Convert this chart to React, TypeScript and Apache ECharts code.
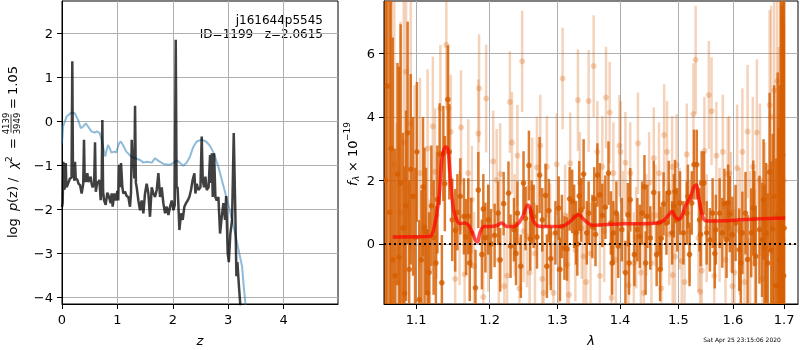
import React, { useEffect, useRef } from 'react';
import * as echarts from 'echarts';

const Z_TICKS = [0, 1, 2, 3, 4];
const LOGP_TICKS = [-4, -3, -2, -1, 0, 1, 2];
const LAM_TICKS = [1.1, 1.2, 1.3, 1.4, 1.5, 1.6, 1.7];
const FLUX_TICKS = [0, 2, 4, 6];

const PZ_BLUE: [number, number][] = [
  [0.0, -0.5], [0.02, -0.12], [0.08, 0.1], [0.17, 0.2], [0.23, 0.18], [0.29, 0.03], [0.34, -0.16],
  [0.38, -0.12], [0.43, -0.05], [0.47, -0.12], [0.53, -0.23], [0.59, -0.26], [0.63, -0.23], [0.68, -0.27],
  [0.71, -0.39], [0.74, -0.58], [0.78, -0.8], [0.8, -0.69], [0.83, -0.54], [0.86, -0.61], [0.89, -0.71],
  [0.95, -0.69], [0.98, -0.71], [1.03, -0.5], [1.06, -0.46], [1.1, -0.54], [1.16, -0.69], [1.24, -0.79],
  [1.32, -0.84], [1.41, -0.88], [1.47, -0.94], [1.53, -0.92], [1.62, -0.94], [1.68, -0.84], [1.74, -0.9],
  [1.83, -0.97], [1.92, -0.99], [1.98, -0.97], [2.04, -0.92], [2.08, -0.89], [2.13, -0.95], [2.19, -1.01],
  [2.25, -0.94], [2.31, -0.8], [2.36, -0.61], [2.43, -0.46], [2.52, -0.42], [2.6, -0.46], [2.67, -0.56],
  [2.74, -0.73], [2.82, -1.03], [2.9, -1.41], [2.98, -1.79], [3.07, -2.24], [3.16, -2.77], [3.25, -3.3],
  [3.28, -3.76], [3.31, -4.15], [3.34, -5.0],
];

const PZ_DARK: [number, number][] = [
  [0.0, -1.95], [0.012, -1.86], [0.024, -0.92], [0.038, -1.55], [0.054, -1.5], [0.068, -0.95], [0.08, -1.5],
  [0.096, -1.46], [0.12, -1.38], [0.144, -1.3], [0.172, -1.28], [0.186, 1.36], [0.198, -1.2], [0.212, -1.25],
  [0.226, -1.35], [0.235, -0.92], [0.248, -1.3], [0.277, -1.33], [0.3, -1.42], [0.325, -1.45], [0.355, -1.64],
  [0.383, -1.42], [0.397, -0.42], [0.41, -1.35], [0.427, -1.37], [0.445, -1.3], [0.457, -1.18], [0.475, -1.38],
  [0.493, -1.33], [0.517, -1.26], [0.535, -1.42], [0.554, -1.5], [0.58, -1.42], [0.596, -0.48], [0.61, -1.6],
  [0.638, -1.37], [0.66, -1.4], [0.674, -1.33], [0.698, -1.79], [0.715, -1.5], [0.728, 0.03], [0.742, -1.6],
  [0.758, -1.79], [0.788, -1.9], [0.818, -1.62], [0.848, -1.72], [0.878, -1.86], [0.896, -1.64], [0.914, -1.94],
  [0.945, -1.64], [0.975, -1.8], [0.999, -1.58], [1.015, -1.8], [1.029, -0.99], [1.047, -1.5], [1.065, -0.95],
  [1.089, -1.5], [1.107, -1.64], [1.137, -1.6], [1.167, -1.7], [1.197, -1.72], [1.227, -1.94], [1.245, -1.62],
  [1.258, -0.42], [1.272, -0.9], [1.288, -0.8], [1.305, -1.3], [1.318, 0.35], [1.333, -1.4], [1.348, -1.5],
  [1.378, -1.8], [1.408, -2.02], [1.438, -1.8], [1.468, -2.09], [1.498, -1.64], [1.528, -1.42], [1.558, -1.64],
  [1.588, -2.17], [1.619, -1.5], [1.649, -1.64], [1.679, -1.72], [1.709, -1.56], [1.739, -1.18], [1.769, -1.72],
  [1.799, -1.5], [1.829, -1.86], [1.859, -2.09], [1.89, -1.94], [1.92, -2.13], [1.95, -1.94], [1.98, -1.8],
  [2.01, -2.02], [2.035, -1.9], [2.052, 1.85], [2.068, -1.5], [2.085, -1.5], [2.1, -1.9], [2.118, -2.47],
  [2.148, -2.09], [2.178, -2.24], [2.208, -1.94], [2.238, -1.86], [2.268, -1.8], [2.298, -1.72], [2.328, -1.56],
  [2.358, -1.33], [2.389, -1.18], [2.407, -1.64], [2.431, -1.42], [2.461, -1.56], [2.498, -1.5], [2.521, -0.35],
  [2.539, -1.33], [2.563, -1.5], [2.587, -1.26], [2.611, -1.56], [2.645, -1.5], [2.672, -0.77], [2.688, -1.4],
  [2.702, -0.73], [2.72, -1.72], [2.744, -0.73], [2.768, -1.72], [2.792, -1.8], [2.822, -1.72], [2.852, -2.55],
  [2.882, -2.17], [2.912, -1.86], [2.942, -2.24], [2.962, -1.7], [2.99, -3.0], [3.01, -3.2], [3.038, -2.55],
  [3.069, -2.24], [3.099, -0.27], [3.129, -2.17], [3.147, -3.52], [3.165, -3.2], [3.189, -3.68], [3.219, -4.2],
  [3.26, -5.0],
];

// [lambda, flux, error] — opaque points
const SPEC_DARK_A: [number, number, number][] = [
  [1.063, 4.97, 8], [1.066, 1.0, 9], [1.07, -0.5, 7], [1.078, -0.42, 6], [1.08, 1.92, 5], [1.085, -1.56, 4],
  [1.089, 3.5, 3.5], [1.093, 2.35, 3], [1.104, -1.75, 2.5], [1.111, 0.53, 2.5], [1.115, -1.54, 2],
  [1.123, 0.2, 1.8], [1.131, 2.83, 1.6], [1.134, -1.22, 1.5], [1.136, 2.85, 1.5], [1.142, 4.55, 1.7],
  [1.148, 0.76, 1.3], [1.152, 0.43, 1.3], [1.159, 1.5, 1.2], [1.164, 0.87, 1.2], [1.167, 0.22, 1.2],
  [1.17, 0.87, 1.2], [1.174, 0.35, 1.1], [1.18, -1.38, 1.2], [1.184, 1.7, 1.2], [1.189, -0.33, 1.1],
  [1.191, 1.1, 1.1], [1.198, 0.76, 1.1], [1.202, 0.0, 1.1], [1.207, 0.27, 1.0], [1.212, 0.97, 1.0],
  [1.22, 1.27, 1.0], [1.227, 1.6, 1.0], [1.23, -0.07, 1.0], [1.235, 0.45, 1.0], [1.24, 0.97, 1.0],
  [1.245, -0.7, 1.0], [1.249, 1.92, 1.0], [1.252, 0.8, 1.0], [1.257, 2.47, 1.1], [1.259, 0.16, 1.0],
  [1.264, 0.87, 1.0], [1.269, 0.22, 1.0], [1.273, 2.17, 1.2], [1.277, 0.76, 1.0], [1.282, 1.53, 1.0],
  [1.287, 1.05, 1.0], [1.29, -0.46, 1.0], [1.297, 0.35, 1.0], [1.302, 1.13, 1.0], [1.307, 0.55, 1.0],
  [1.311, -0.13, 1.0], [1.315, -0.16, 1.0], [1.319, 1.42, 1.0], [1.323, 1.34, 1.0], [1.326, 0.87, 1.0],
  [1.329, 0.35, 1.0], [1.334, 1.51, 1.1], [1.337, 1.07, 1.0], [1.341, 2.2, 1.1], [1.346, 0.35, 1.0],
  [1.349, 0.97, 1.0], [1.355, 0.55, 1.0], [1.358, 1.42, 1.0], [1.363, 2.17, 1.0], [1.367, 1.55, 1.0],
  [1.371, 0.9, 1.0], [1.376, 1.16, 1.0], [1.381, 2.23, 1.0], [1.385, 0.66, 1.0], [1.389, 0.35, 1.0],
  [1.394, 0.97, 1.0], [1.397, -0.07, 1.0], [1.403, 0.45, 1.0], [1.409, -0.9, 1.0], [1.413, 0.92, 1.0],
  [1.417, 1.39, 1.0], [1.424, -0.33, 1.0], [1.429, 0.45, 1.0], [1.433, 0.24, 1.0], [1.437, 0.97, 1.0],
  [1.441, 1.8, 1.0], [1.446, 0.87, 1.0], [1.451, 0.19, 1.0], [1.457, 1.62, 1.0], [1.462, -0.33, 1.0],
  [1.466, 0.66, 1.0], [1.47, 0.18, 1.0], [1.474, 1.26, 1.0], [1.479, 0.66, 1.0], [1.483, 1.62, 1.0],
  [1.489, 0.35, 1.0], [1.494, 1.65, 1.0], [1.498, 0.76, 1.0], [1.503, 1.29, 1.0], [1.509, 0.35, 1.0],
  [1.515, 0.97, 1.0], [1.52, -0.33, 1.0], [1.524, 1.29, 1.0], [1.528, 2.5, 1.1], [1.533, 2.5, 1.1],
  [1.538, 0.76, 1.0], [1.542, 1.92, 1.0], [1.546, 1.92, 1.0], [1.551, 0.35, 1.0], [1.557, 0.13, 1.0],
  [1.562, 0.97, 1.1], [1.568, 0.45, 1.1], [1.575, 0.97, 1.1], [1.58, 0.35, 1.1], [1.584, 1.27, 1.1],
  [1.588, 0.13, 1.2], [1.594, 0.94, 1.2], [1.599, 0.29, 1.2], [1.605, 0.66, 1.2], [1.612, -0.18, 1.3],
  [1.618, 0.35, 1.3], [1.624, 0.97, 1.3], [1.628, -0.49, 1.4], [1.635, 0.35, 1.4], [1.639, 1.13, 1.5],
  [1.644, -0.39, 1.6], [1.651, 0.45, 1.7], [1.656, 0.13, 1.8], [1.661, -0.13, 2.0], [1.664, 0.35, 2.2],
  [1.671, 2.26, 2.5], [1.677, 0.47, 3], [1.684, -1.31, 4], [1.689, -1.33, 5], [1.693, 1.79, 6],
  [1.697, 2.8, 7], [1.7, 0.5, 8],
];

// more opaque points, mostly at the noisy ends
const SPEC_DARK_B: [number, number, number][] = [
  [1.061, 2.0, 9], [1.068, 3.0, 8], [1.073, -1.0, 4], [1.076, 2.2, 3.5], [1.083, 0.5, 3], [1.087, 1.2, 3],
  [1.091, -0.8, 2.8], [1.096, 1.5, 2.5], [1.099, 0.2, 2.2], [1.101, 2.9, 2.2], [1.107, -0.5, 2.2], [1.109, 1.8, 2.2],
  [1.113, 0.4, 2.0], [1.117, -0.9, 1.9], [1.12, 1.2, 1.9], [1.126, -0.6, 1.8], [1.128, 1.4, 1.7], [1.138, 1.9, 1.5],
  [1.144, 2.9, 1.5], [1.155, 1.0, 1.2], [1.172, -0.6, 1.2], [1.194, 0.2, 1.1], [1.215, -0.5, 1.0],
  [1.238, -0.3, 1.0], [1.261, 1.0, 1.0], [1.284, -0.7, 1.0], [1.304, -0.8, 1.0], [1.331, 0.0, 1.0],
  [1.36, 0.3, 1.0], [1.387, -0.6, 1.0], [1.415, -0.6, 1.0], [1.443, -0.6, 1.0], [1.468, -0.8, 1.0],
  [1.492, 1.2, 1.0], [1.517, 1.5, 1.0], [1.54, 0.3, 1.0], [1.566, -0.3, 1.1], [1.591, 1.3, 1.2],
  [1.615, -0.6, 1.3], [1.641, 0.8, 1.5], [1.659, 1.4, 1.9], [1.667, -0.6, 2.2], [1.674, -0.2, 2.8],
  [1.68, 1.5, 3.5], [1.687, 0.9, 4.5], [1.691, -0.5, 5.5], [1.695, 1.0, 6.5], [1.699, -1.0, 8],
];

// translucent points
const SPEC_LIGHT: [number, number, number][] = [
  [1.072, 2.5, 6], [1.075, -1.2, 5], [1.08, 1.0, 6], [1.084, 3.2, 5], [1.087, 5.42, 5], [1.093, 3.8, 4],
  [1.098, 1.5, 3.5], [1.105, 2.23, 3], [1.115, 3.0, 2.5], [1.118, -0.8, 2.2], [1.122, 3.7, 2.2],
  [1.125, 2.27, 2.0], [1.127, 0.9, 2], [1.132, 4.27, 2.0], [1.14, 6.27, 2.0], [1.143, 4.27, 2.0],
  [1.146, 3.53, 1.8], [1.152, -1.1, 1.8], [1.158, 0.5, 1.8], [1.16, 3.67, 1.8], [1.165, -0.96, 1.7],
  [1.17, 2.23, 1.7], [1.175, 1.39, 1.7], [1.178, -0.7, 1.7], [1.184, 3.48, 1.7], [1.185, 4.9, 1.7],
  [1.191, -1.67, 1.7], [1.195, 4.58, 1.7], [1.198, 0.2, 1.7], [1.205, 2.6, 1.6], [1.21, 2.02, 1.6],
  [1.213, -0.5, 1.6], [1.215, 2.2, 1.6], [1.221, -1.33, 1.6], [1.225, -1.0, 1.6], [1.229, 4.47, 1.6],
  [1.232, 3.19, 1.6], [1.236, 0.6, 1.6], [1.24, 2.78, 1.6], [1.243, -1.4, 1.6], [1.247, 5.75, 1.6],
  [1.249, 0.4, 1.6], [1.254, 0.24, 1.6], [1.258, -0.9, 1.6], [1.262, 1.75, 1.6], [1.266, -0.3, 1.6],
  [1.269, 2.41, 1.6], [1.274, 3.1, 1.6], [1.277, -1.1, 1.6], [1.279, -1.54, 1.6], [1.284, 2.43, 1.6],
  [1.289, 0.3, 1.6], [1.294, -1.54, 1.6], [1.299, 2.51, 1.6], [1.303, -0.8, 1.6], [1.308, 5.21, 1.6],
  [1.312, 0.9, 1.6], [1.315, -0.65, 1.6], [1.318, -1.6, 1.6], [1.32, 2.54, 1.6], [1.328, -0.2, 1.6],
  [1.332, 4.53, 1.6], [1.335, 1.92, 1.6], [1.338, 0.5, 1.6], [1.341, -0.39, 1.6], [1.345, -1.2, 1.6],
  [1.349, 4.5, 1.6], [1.352, -0.3, 1.6], [1.357, 5.6, 1.6], [1.363, 2.9, 1.6], [1.367, -1.0, 1.6],
  [1.371, 2.43, 1.6], [1.374, 0.4, 1.6], [1.377, 4.61, 1.6], [1.383, 4.14, 1.6], [1.386, -1.7, 1.6],
  [1.389, 2.23, 1.6], [1.393, -0.5, 1.6], [1.399, 3.09, 1.6], [1.401, 2.9, 1.6], [1.405, 0.7, 1.6],
  [1.409, 2.56, 1.6], [1.414, -1.3, 1.6], [1.417, 2.23, 1.6], [1.423, -0.6, 1.6], [1.427, 0.2, 1.6],
  [1.43, 3.17, 1.6], [1.435, -0.9, 1.6], [1.44, -1.54, 1.6], [1.444, 0.6, 1.6], [1.449, 1.92, 1.6],
  [1.453, -0.6, 1.6], [1.457, 2.7, 1.6], [1.46, 0.9, 1.6], [1.466, 2.23, 1.6], [1.47, -1.4, 1.6],
  [1.475, 3.43, 1.6], [1.48, 2.9, 1.6], [1.484, 0.3, 1.6], [1.489, 2.43, 1.6], [1.49, -0.98, 1.6],
  [1.494, -0.4, 1.6], [1.497, 2.49, 1.6], [1.502, 0.8, 1.6], [1.506, -0.54, 1.6], [1.511, -1.2, 1.6],
  [1.515, 2.82, 1.6], [1.52, 0.4, 1.6], [1.527, 4.09, 1.6], [1.531, 5.8, 1.7], [1.536, 0.19, 1.7],
  [1.539, -1.5, 1.7], [1.542, -0.84, 1.7], [1.547, 2.93, 1.7], [1.551, 0.5, 1.7], [1.555, 4.69, 1.7],
  [1.56, 4.18, 1.7], [1.565, -1.0, 1.7], [1.569, 2.78, 1.7], [1.575, 0.6, 1.8], [1.581, 2.9, 1.8],
  [1.586, -0.5, 1.8], [1.59, 2.2, 1.8], [1.593, 2.23, 1.8], [1.596, 1.0, 1.9], [1.599, -1.33, 1.9],
  [1.603, -0.9, 2], [1.608, 2.39, 2.0], [1.613, 0.4, 2], [1.618, 2.9, 2.0], [1.622, -1.2, 2.1],
  [1.628, 3.54, 2.1], [1.633, 0.1, 2.2], [1.638, 2.43, 2.2], [1.642, -0.6, 2.3], [1.646, 3.51, 2.3],
  [1.652, 2.02, 2.4], [1.657, -1.1, 2.5], [1.662, 0.6, 2.6], [1.667, -0.3, 2.8], [1.671, 4.37, 3],
  [1.674, 4.0, 3.5], [1.68, 4.84, 4], [1.686, 5.13, 5], [1.689, 1.2, 5], [1.693, 4.0, 6], [1.695, 3.5, 7],
  [1.697, 0.13, 7], [1.699, 2.0, 8],
];

const MODEL: [number, number][] = [
  [1.07, 0.22], [1.118, 0.24], [1.123, 0.45], [1.13, 1.39], [1.134, 2.65], [1.139, 3.06], [1.142, 3.0],
  [1.145, 2.23], [1.148, 1.39], [1.152, 0.87], [1.159, 0.64], [1.165, 0.66], [1.17, 0.6], [1.175, 0.4],
  [1.18, 0.12], [1.183, 0.06], [1.186, 0.35], [1.192, 0.55], [1.2, 0.55], [1.21, 0.58], [1.217, 0.66],
  [1.225, 0.55], [1.235, 0.55], [1.242, 0.66], [1.249, 0.92], [1.255, 1.23], [1.258, 1.18], [1.263, 0.76],
  [1.269, 0.58], [1.279, 0.55], [1.294, 0.55], [1.31, 0.58], [1.32, 0.71], [1.328, 0.87], [1.334, 0.92],
  [1.339, 0.82], [1.349, 0.64], [1.357, 0.59], [1.378, 0.61], [1.406, 0.64], [1.434, 0.64], [1.463, 0.66],
  [1.474, 0.74], [1.483, 0.92], [1.489, 1.03], [1.494, 0.87], [1.5, 0.78], [1.506, 0.87], [1.515, 1.29],
  [1.521, 1.44], [1.528, 1.81], [1.532, 1.86], [1.536, 1.5], [1.542, 0.97], [1.548, 0.74], [1.557, 0.72],
  [1.581, 0.73], [1.612, 0.76], [1.644, 0.79], [1.702, 0.82],
];

const FONT = 'DejaVu Sans';
const DARK_ORANGE = 'rgba(213,94,0,0.82)';
const LIGHT_ORANGE = 'rgba(213,94,0,0.27)';

const minus = (v: number) => (v < 0 ? '\u2212' + Math.abs(v) : String(v));

function errRender(color: string, r: number, w: number) {
  return (_params: any, api: any) => {
    const x = api.value(0);
    const y = api.value(1);
    const e = api.value(2);
    const lo = api.coord([x, y - e]);
    const hi = api.coord([x, y + e]);
    const c = api.coord([x, y]);
    return {
      type: 'group',
      children: [
        { type: 'line', shape: { x1: lo[0], y1: lo[1], x2: hi[0], y2: hi[1] }, style: { stroke: color, lineWidth: w } },
        { type: 'circle', shape: { cx: c[0], cy: c[1], r }, style: { fill: color } },
      ],
    };
  };
}

function txt(text: string, x: number, y: number, size: number, extra: any = {}) {
  return {
    type: 'text',
    x,
    y,
    style: {
      text,
      fontSize: size,
      fontFamily: FONT,
      fill: '#000',
      align: 'left',
      verticalAlign: 'middle',
      textAlign: 'left',
      textVerticalAlign: 'middle',
      ...extra,
    },
  };
}

const axisCommon = {
  axisLine: { show: true, onZero: false, lineStyle: { color: '#000', width: 1 } },
  splitLine: { show: true, lineStyle: { color: '#b0b0b0', width: 1 } },
};

export default function App() {
  const ref = useRef<HTMLDivElement>(null);
  useEffect(() => {
    if (!ref.current) return;
    const chart = echarts.init(ref.current, undefined, { renderer: 'svg' });
    const italic = { fontStyle: 'italic' };
    const option: any = {
      animation: false,
      textStyle: { fontFamily: FONT },
      grid: [
        { left: 62, top: 1, width: 276, height: 303, show: true, borderColor: '#000', borderWidth: 1, containLabel: false },
        { left: 384, top: 1, width: 414, height: 303, show: true, borderColor: '#000', borderWidth: 1, containLabel: false },
      ],
      xAxis: [
        {
          type: 'value', gridIndex: 0, min: 0, max: 4.98, ...axisCommon,
          axisTick: { show: true, length: 5, lineStyle: { color: '#000' }, customValues: Z_TICKS },
          axisLabel: { customValues: Z_TICKS, fontSize: 13, color: '#000', margin: 9, fontFamily: FONT, formatter: (v: number) => minus(v) },
        },
        {
          type: 'log', logBase: 10, gridIndex: 1, min: 1.059, max: 1.728, ...axisCommon,
          axisTick: { show: true, length: 5, lineStyle: { color: '#000' }, customValues: LAM_TICKS },
          axisLabel: { customValues: LAM_TICKS, fontSize: 13, color: '#000', margin: 9, fontFamily: FONT, formatter: (v: number) => v.toFixed(1) },
        },
      ],
      yAxis: [
        {
          type: 'value', gridIndex: 0, min: -4.15, max: 2.73, ...axisCommon,
          axisTick: { show: true, length: 5, lineStyle: { color: '#000' }, customValues: LOGP_TICKS },
          axisLabel: { customValues: LOGP_TICKS, fontSize: 13, color: '#000', margin: 9, fontFamily: FONT, formatter: (v: number) => minus(v) },
        },
        {
          type: 'value', gridIndex: 1, min: -1.89, max: 7.65, ...axisCommon,
          axisTick: { show: true, length: 5, lineStyle: { color: '#000' }, customValues: FLUX_TICKS },
          axisLabel: { customValues: FLUX_TICKS, fontSize: 13, color: '#000', margin: 9, fontFamily: FONT, formatter: (v: number) => minus(v) },
        },
      ],
      series: [
        {
          type: 'line', xAxisIndex: 0, yAxisIndex: 0, data: PZ_BLUE, showSymbol: false, symbol: 'none',
          lineStyle: { color: 'rgba(31,119,180,0.5)', width: 2 }, clip: true, z: 2,
        },
        {
          type: 'line', xAxisIndex: 0, yAxisIndex: 0, data: PZ_DARK, showSymbol: false, symbol: 'none',
          lineStyle: { color: 'rgba(0,0,0,0.75)', width: 2.5 }, clip: true, z: 3,
        },
        {
          type: 'custom', xAxisIndex: 1, yAxisIndex: 1, data: SPEC_LIGHT, encode: { x: 0, y: 1 },
          renderItem: errRender(LIGHT_ORANGE, 3, 2.5), clip: true, z: 2,
        },
        {
          type: 'custom', xAxisIndex: 1, yAxisIndex: 1, data: SPEC_DARK_A.concat(SPEC_DARK_B), encode: { x: 0, y: 1 },
          renderItem: errRender(DARK_ORANGE, 2.8, 2.5), clip: true, z: 3,
        },
        {
          type: 'line', xAxisIndex: 1, yAxisIndex: 1, data: MODEL, showSymbol: false, symbol: 'none', smooth: 0.3,
          lineStyle: { color: 'rgba(255,0,0,0.7)', width: 3.5 }, clip: true, z: 4,
          markLine: {
            silent: true, symbol: ['none', 'none'], label: { show: false },
            lineStyle: { color: '#000', type: [2, 3], width: 2 },
            data: [{ yAxis: 0 }],
          },
        },
      ],
      graphic: [
        txt('j161644p5545', 323, 20, 12, { align: 'right', textAlign: 'right' }),
        txt('ID=1199   z=2.0615', 323, 34, 12, { align: 'right', textAlign: 'right' }),
        txt('z', 200, 340, 13, { align: 'center', textAlign: 'center', ...italic }),
        txt('\u03bb', 591, 340, 13, { align: 'center', textAlign: 'center', ...italic }),
        txt('Sat Apr 25 23:15:06 2020', 742, 339, 6, { align: 'center', textAlign: 'center' }),
        {
          type: 'group', x: 12.5, y: 238, rotation: Math.PI / 2,
          children: [
            txt('log', 0, 0, 13),
            txt('p', 27, 0, 13, italic),
            txt('(z)', 35, 0, 13),
            txt('/', 56, 0, 13),
            txt('\u03c7', 69, 0, 13, italic),
            txt('2', 76, -4, 9),
            txt('=', 89, 0, 13),
            txt('4139', 114.5, -6.5, 8.5, { align: 'center', textAlign: 'center' }),
            { type: 'line', shape: { x1: 105.5, y1: -1.5, x2: 123.5, y2: -1.5 }, style: { stroke: '#000', lineWidth: 0.8 } },
            txt('3949', 114.5, 4, 8.5, { align: 'center', textAlign: 'center' }),
            txt('=', 129, 0, 13),
            txt('1.05', 143, 0, 13),
          ],
        },
        {
          type: 'group', x: 352, y: 186, rotation: Math.PI / 2,
          children: [
            txt('f', 0, 0, 13, italic),
            txt('\u03bb', 5, 3.5, 9, italic),
            txt('\u00d7 10', 14, 0, 13),
            txt('\u221219', 45, -5, 9),
          ],
        },
      ],
    };
    chart.setOption(option);
    return () => chart.dispose();
  }, []);
  return <div ref={ref} style={{ position: 'fixed', left: 0, top: 0, width: 800, height: 350 }} />;
}
